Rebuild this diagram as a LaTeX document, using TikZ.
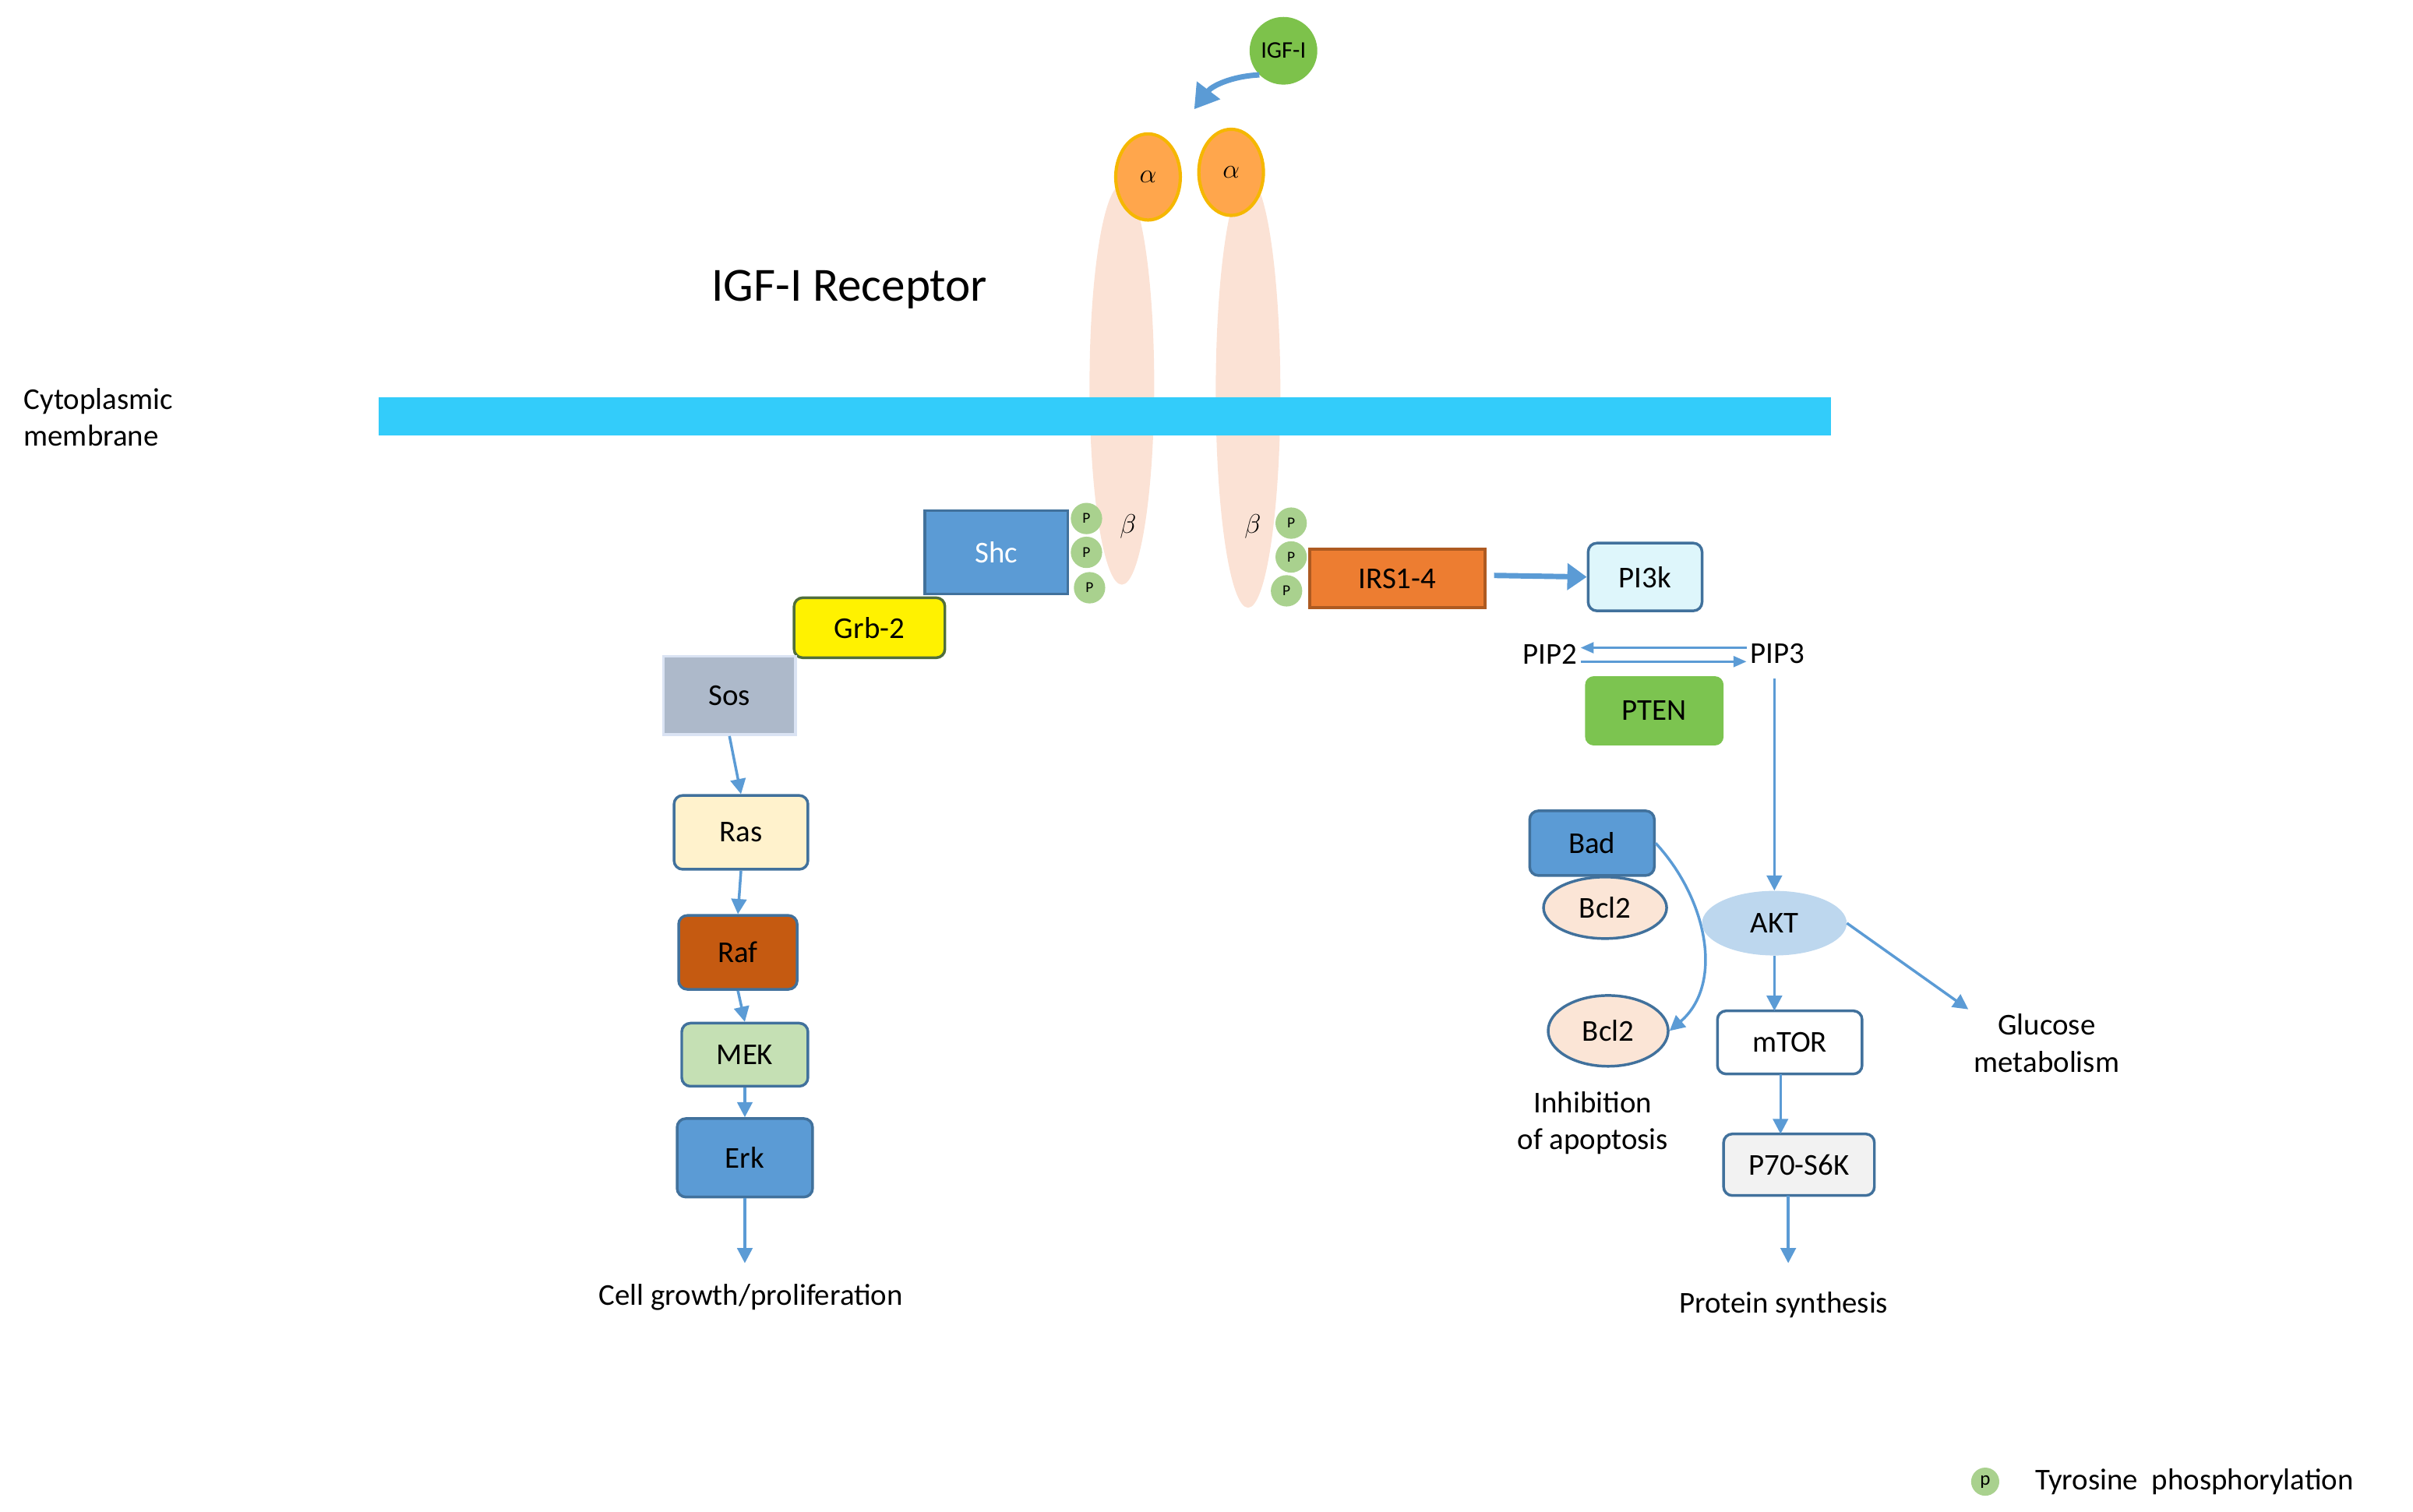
\documentclass[tikz,border=0pt]{standalone}
\usepackage{fontspec}
\setmainfont{Carlito}
\usetikzlibrary{arrows.meta,shapes.geometric}
\definecolor{ablue}{HTML}{5B9BD5}
\definecolor{dblue}{HTML}{41719C}
\definecolor{memb}{HTML}{33CCFA}
\definecolor{stalk}{HTML}{FBE2D5}
\definecolor{pgreen}{HTML}{A9D18E}
\tikzset{
 lbl/.style={font=\fontsize{28}{34}\selectfont, align=center},
 box/.style={draw=dblue, line width=2.5pt, font=\fontsize{28}{34}\selectfont, inner sep=0pt},
 rbox/.style={box, rounded corners=8pt},
 arr/.style={draw=ablue, line width=2.5pt, -{Triangle[width=14pt,length=14pt]}},
 pc/.style={circle, fill=pgreen, minimum size=29pt, inner sep=0pt, font=\fontsize{14}{14}\selectfont},
}
\begin{document}
\begin{tikzpicture}[x=0.05cm,y=-0.05cm]
\useasboundingbox (0,0) rectangle (1568,982.7);
% stalks
\fill[stalk] (729,250) ellipse [x radius=21, y radius=130];
\fill[stalk] (811,255) ellipse [x radius=21, y radius=140];
% membrane
\node[fill=memb, minimum width=944*0.05cm, minimum height=25*0.05cm, inner sep=0pt] (mem) at (718,270.5) {};
\node[lbl, align=left, anchor=west] (cyt) at (13,271) {Cytoplasmic\\membrane};
\node[font=\fontsize{44}{50}\selectfont] (title) at (552,188) {IGF-I Receptor};
% alpha
\node[ellipse, fill=orange!55!red!45!white, fill=orange!70!white, draw={rgb,255:red,245;green,183;blue,0}, line width=3pt, minimum width=42*0.05cm, minimum height=56*0.05cm, font=\fontsize{28}{30}\selectfont] (a1) at (746,115) {$\alpha$};
\node[ellipse, fill=orange!70!white, draw={rgb,255:red,245;green,183;blue,0}, line width=3pt, minimum width=42*0.05cm, minimum height=56*0.05cm, font=\fontsize{28}{30}\selectfont] (a2) at (800,112) {$\alpha$};
\node[circle, fill={rgb,255:red,125;green,194;blue,75}, minimum size=44*0.05cm, inner sep=0pt, font=\fontsize{22}{22}\selectfont] (igf) at (834,33) {IGF-I};
\coordinate (igfend) at (776,71);
\draw[draw=ablue, line width=5pt, -{Triangle[width=26pt,length=22pt]}] (igf.south west) to[bend right=25] (igfend);
% beta
\node[font=\fontsize{40}{40}\selectfont] (b1) at (733,342) {$\beta$};
\node[font=\fontsize{40}{40}\selectfont] (b2) at (814,342) {$\beta$};
% P circles
\node[pc] (p1) at (706,337) {P};
\node[pc] (p2) at (706,359) {P};
\node[pc] (p3) at (708,382) {P};
\node[pc] (p4) at (839,340) {P};
\node[pc] (p5) at (839,362) {P};
\node[pc] (p6) at (836,384) {P};
% left pathway
\node[box, fill=ablue, text=white, minimum width=93*0.05cm, minimum height=54*0.05cm] (shc) at (647.5,359) {Shc};
\node[rbox, draw={rgb,255:red,80;green,110;blue,60}, fill=yellow, minimum width=98*0.05cm, minimum height=39*0.05cm] (grb) at (565,408) {Grb-2};
\node[box, draw={rgb,255:red,218;green,227;blue,243}, fill={rgb,255:red,173;green,185;blue,202}, minimum width=86*0.05cm, minimum height=51*0.05cm] (sos) at (474,452) {Sos};
\node[rbox, fill={rgb,255:red,255;green,242;blue,204}, minimum width=87*0.05cm, minimum height=48*0.05cm] (ras) at (481.5,541) {Ras};
\node[rbox, fill={rgb,255:red,197;green,90;blue,17}, minimum width=77*0.05cm, minimum height=48*0.05cm] (raf) at (479.5,619) {Raf};
\node[rbox, fill={rgb,255:red,197;green,224;blue,180}, minimum width=82*0.05cm, minimum height=41*0.05cm] (mek) at (484,685.5) {MEK};
\node[rbox, fill=ablue, minimum width=88*0.05cm, minimum height=51*0.05cm] (erk) at (484,752.5) {Erk};
\node[lbl] (cg) at (488,843) {Cell growth/proliferation};
\draw[arr] (sos.south) -- (ras.north);
\draw[arr] (ras.south) -- (raf.north);
\draw[arr] (raf.south) -- (mek.north);
\draw[arr] (mek.south) -- (erk.north);
\coordinate (cgtop) at (484,821);
\draw[arr] (erk.south) -- (cgtop);
% right pathway
\node[box, draw={rgb,255:red,174;green,90;blue,33}, fill={rgb,255:red,237;green,125;blue,49}, minimum width=114*0.05cm, minimum height=38*0.05cm] (irs) at (908,376) {IRS1-4};
\node[rbox, fill={rgb,255:red,222;green,246;blue,251}, minimum width=74*0.05cm, minimum height=44*0.05cm] (pi3k) at (1069,375) {PI3k};
\draw[draw=ablue, line width=5pt, -{Triangle[width=24pt,length=18pt]}] (irs.east)++(5,-2) -- (pi3k.west);
\node[lbl] (pip2) at (1007,425) {PIP2};
\node[lbl] (pip3) at (1155,425) {PIP3};
\draw[draw=ablue, line width=2pt, -{Triangle[width=10pt,length=12pt]}] ([yshift=-0.25cm]pip2.east) -- ([yshift=-0.25cm]pip3.west);
\draw[draw=ablue, line width=2pt, -{Triangle[width=10pt,length=12pt]}] ([yshift=0.2cm]pip3.west) -- ([yshift=0.2cm]pip2.east);
\node[rbox, draw=none, fill={rgb,255:red,124;green,196;blue,80}, minimum width=90*0.05cm, minimum height=45*0.05cm] (pten) at (1075,462) {PTEN};
\node[rbox, fill=ablue, minimum width=81*0.05cm, minimum height=42*0.05cm] (bad) at (1034.5,548) {Bad};
\node[ellipse, draw=dblue, line width=2.5pt, fill={rgb,255:red,251;green,229;blue,214}, minimum width=80*0.05cm, minimum height=40*0.05cm, font=\fontsize{28}{34}\selectfont] (bcl1) at (1043,590) {Bcl2};
\node[ellipse, draw=dblue, line width=2.5pt, fill={rgb,255:red,251;green,229;blue,214}, minimum width=78*0.05cm, minimum height=46*0.05cm, font=\fontsize{28}{34}\selectfont] (bcl2) at (1045,670) {Bcl2};
\draw[arr] (bad.east) .. controls (1110,585) and (1120,640) .. (bcl2.east);
\node[ellipse, fill={rgb,255:red,189;green,215;blue,238}, minimum width=94*0.05cm, minimum height=42*0.05cm, font=\fontsize{28}{34}\selectfont] (akt) at (1153,600) {AKT};
\draw[arr] (1153,441) -- (akt.north);
\node[rbox, fill=white, minimum width=94*0.05cm, minimum height=41*0.05cm] (mtor) at (1163,677.5) {mTOR};
\node[rbox, fill={rgb,255:red,242;green,242;blue,242}, minimum width=98*0.05cm, minimum height=40*0.05cm] (p70) at (1169,757) {P70-S6K};
\draw[arr] (akt.south) -- (1153,657);
\draw[arr] (1157,698) -- (1157,737);
\coordinate (pstop) at (1162,821);
\draw[arr] (1162,777) -- (pstop);
\node[lbl] (ps) at (1159,848) {Protein synthesis};
\coordinate (glc) at (1279,656);
\draw[arr] (akt.east) -- (glc);
\node[lbl] (gm) at (1330,678) {Glucose\\metabolism};
\node[lbl] (ia) at (1035,730) {Inhibition\\of apoptosis};
% legend
\node[pc, minimum size=26pt, font=\fontsize{18}{18}\selectfont] (lp) at (1290,963) {p};
\node[lbl, anchor=west] (lt) at (1320,963) {Tyrosine\ \ phosphorylation};
\end{tikzpicture}
\end{document}
